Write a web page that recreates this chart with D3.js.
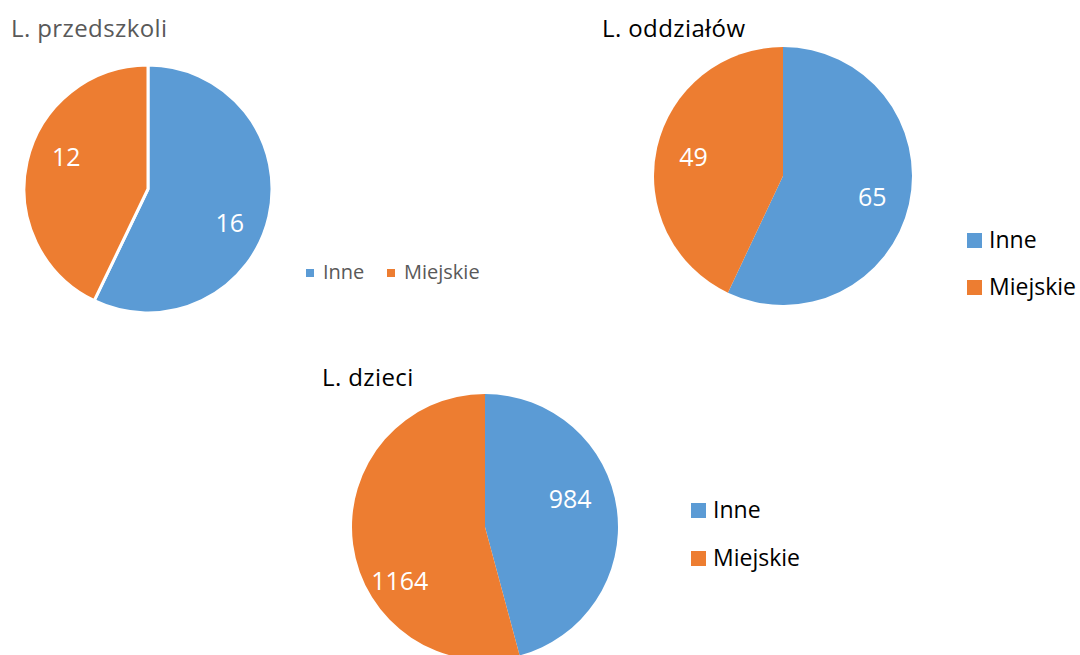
<!DOCTYPE html>
<html><head><meta charset="utf-8">
<script src="https://cdn.jsdelivr.net/npm/d3@7"></script>
<style>body{margin:0;background:#fff}svg{display:block}text{font-family:"Open Sans",sans-serif}</style>
</head><body><svg id="c" width="1080" height="655"></svg>
<script>
const categories = ["Inne", "Miejskie"];
const titles = ["L. przedszkoli", "L. oddziałów", "L. dzieci"];
const przedszkola = [16, 12];
const oddzialy = [65, 49];
const dzieci = [984, 1164];
const colors = ["#5B9BD5", "#ED7D31"];

const svg = d3.select("#c");
const color = d3.scaleOrdinal().domain(categories).range(colors);
const pie = d3.pie().sort(null).value(d => d.v);

const charts = [
  {title: titles[0], values: przedszkola, cx: 148, cy: 189, r: 124, tx: 11, ty: 37, tcol: "#595959", stroke: 3,
   lab: {rf: 0.71, rot: 9, dy: 0},
   legend: {type: "row", x: 306, y: 279, sq: 8, fs: 20, col: "#595959", gap: 81, sqdy: -2}},
  {title: titles[1], values: oddzialy, cx: 783, cy: 176, r: 129, tx: 602, ty: 37, tcol: "#000", stroke: 0,
   lab: {rf: 0.71, rot: 0, dy: 0},
   legend: {type: "col", x: 967, y: 248, sq: 15, fs: 23, col: "#000", gap: 47, sqdy: 0}},
  {title: titles[2], values: dzieci, cx: 485, cy: 527, r: 133, tx: 322, ty: 386, tcol: "#000", stroke: 0,
   lab: {rf: 0.71, rot: -18, dy: 12},
   legend: {type: "col", x: 691, y: 518, sq: 15, fs: 23, col: "#000", gap: 48, sqdy: 0}}
];

charts.forEach(c => {
  const data = categories.map((k, i) => ({k, v: c.values[i]}));
  const arcs = pie(data);
  const arc = d3.arc().innerRadius(0).outerRadius(c.r);
  const rl = c.r * c.lab.rf;
  const g = svg.append("g").attr("transform", `translate(${c.cx},${c.cy})`);
  g.selectAll("path").data(arcs).join("path")
    .attr("d", arc).attr("fill", d => color(d.data.k))
    .attr("stroke", c.stroke ? "#fff" : "none").attr("stroke-width", c.stroke)
    .attr("stroke-linejoin", "round");
  g.selectAll("text").data(arcs).join("text")
    .attr("transform", d => {
      const a = (d.startAngle + d.endAngle) / 2 + c.lab.rot * Math.PI / 180;
      return `translate(${rl * Math.sin(a)},${-rl * Math.cos(a) + c.lab.dy})`;
    })
    .attr("text-anchor", "middle").attr("dominant-baseline", "central")
    .attr("fill", "#fff").attr("font-size", 25)
    .text(d => d.data.v);
  svg.append("text").attr("x", c.tx).attr("y", c.ty).attr("fill", c.tcol)
    .attr("font-size", 24).attr("letter-spacing", 0.4).text(c.title);
  const L = c.legend;
  categories.forEach((k, i) => {
    const x = L.type === "row" ? L.x + i * L.gap : L.x;
    const y = L.type === "row" ? L.y : L.y + i * L.gap;
    svg.append("rect").attr("x", x).attr("y", y - L.sq + L.sqdy).attr("width", L.sq).attr("height", L.sq)
      .attr("fill", color(k));
    svg.append("text").attr("x", x + L.sq + (L.type === "row" ? 9 : 7)).attr("y", y)
      .attr("fill", L.col).attr("font-size", L.fs).text(k);
  });
});
</script></body></html>
